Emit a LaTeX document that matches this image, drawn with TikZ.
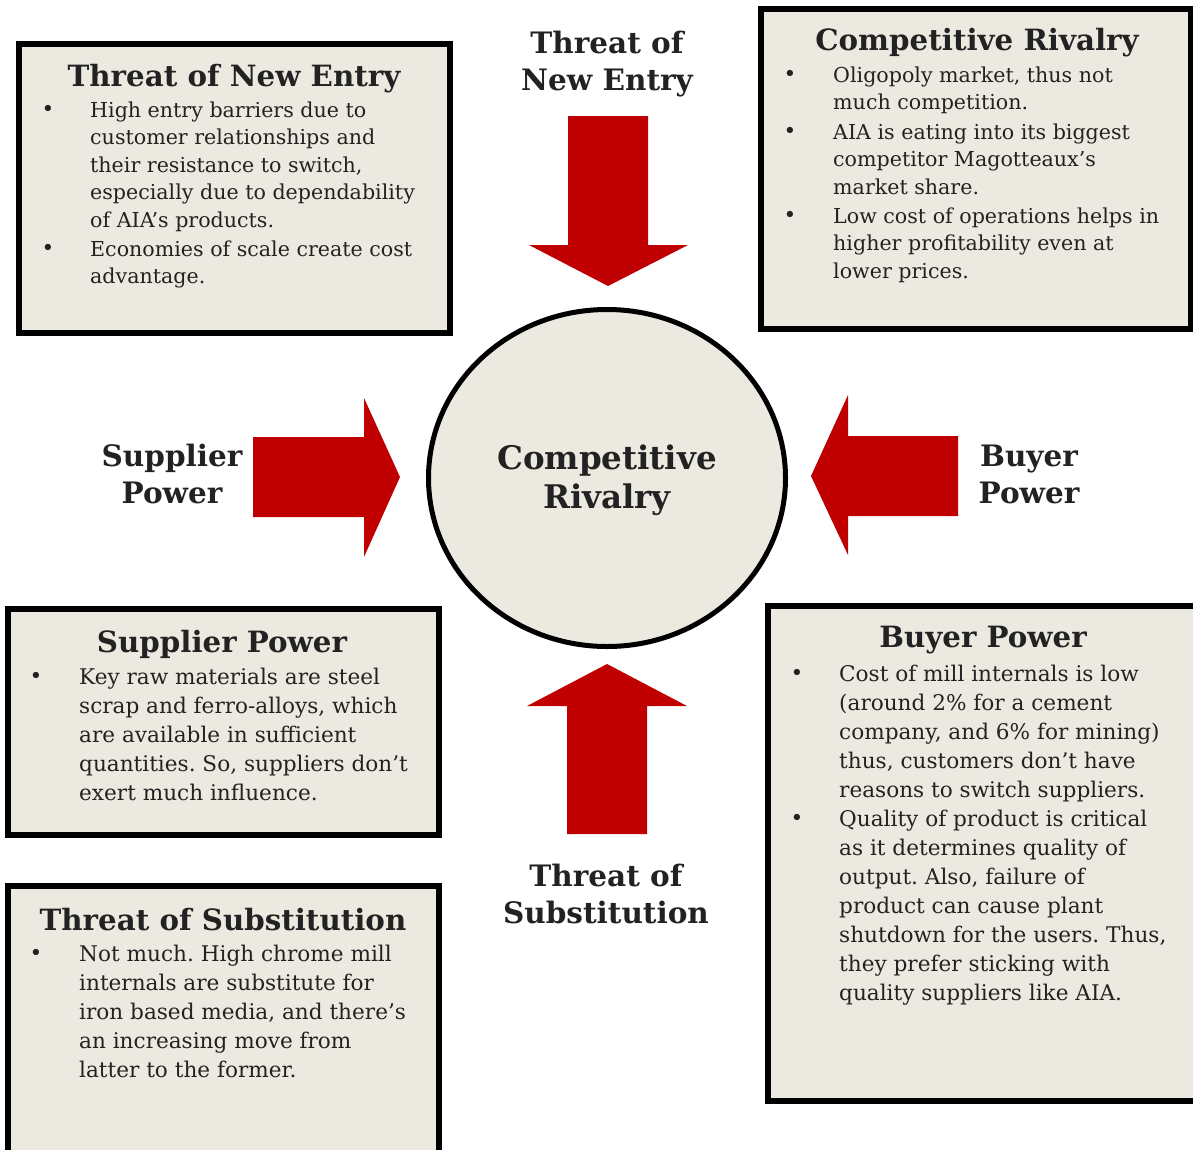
\documentclass[tikz,border=0pt]{standalone}
\usepackage{fontspec}
\setmainfont{DejaVu Serif}
\usetikzlibrary{shapes.geometric}
\definecolor{boxfill}{HTML}{ECEAE0}
\definecolor{arrowred}{HTML}{C00000}
\definecolor{ink}{HTML}{222222}
\newcommand{\bodyA}{\fontsize{20.6}{27.5}\selectfont}
\newcommand{\bodyB}{\fontsize{21.6}{29}\selectfont}
\begin{document}
\frenchspacing
\begin{tikzpicture}[x=1pt,y=-1pt,
  panel/.style={draw=black,line width=6pt,fill=boxfill},
  ptitle/.style={font=\fontsize{29.3}{34}\selectfont\bfseries,text=ink,inner sep=0pt},
  plabel/.style={font=\fontsize{29.5}{37}\selectfont\bfseries,text=ink,align=center,inner sep=0pt},
  itemA/.style={font=\bodyA,text=ink,align=left,anchor=north west,inner sep=0pt},
  itemB/.style={font=\bodyB,text=ink,align=left,anchor=north west,inner sep=0pt},
  bul/.style={font=\bodyB,text=ink,inner sep=0pt},
  blockarrow/.style={fill=arrowred,draw=none}]
\useasboundingbox (0,0) rectangle (1193,1149);
\fill[white] (0,0) rectangle (1193,1149);
% panels
\draw[panel] (19,44) rectangle (450,333);
\draw[panel] (761,9) rectangle (1190.5,329);
\draw[panel] (8,609) rectangle (439,835);
\draw[panel] (8,886) rectangle (439,1165);
\draw[panel] (768,606) rectangle (1205,1101);
% centre ellipse
\node[ellipse,draw=black,line width=5pt,fill=boxfill,minimum width=357pt,minimum height=337pt,inner sep=0pt] (core) at (607,478) {};
\node[font=\fontsize{32.5}{39}\selectfont\bfseries,text=ink,align=center,inner sep=0pt] (coretext) at (607,480) {Competitive\\Rivalry};
% block arrows
\fill[blockarrow] (568,116) -- (648,116) -- (648,245) -- (688,245) -- (608,286) -- (529,245) -- (568,245) -- cycle;
\fill[blockarrow] (567,834) -- (647,834) -- (647,706) -- (687,706) -- (607,664) -- (527,706) -- (567,706) -- cycle;
\fill[blockarrow] (253,437) -- (364,437) -- (364,398) -- (400,477) -- (364,557) -- (364,517) -- (253,517) -- cycle;
\fill[blockarrow] (958,436) -- (848,436) -- (848,395) -- (811,476) -- (848,555) -- (848,516) -- (958,516) -- cycle;
% arrow labels
\node[plabel] (lnew) at (607,64) {Threat of\\New Entry};
\node[plabel] (lsup) at (172,474) {Supplier\\Power};
\node[plabel] (lbuy) at (1029,474) {Buyer\\Power};
\node[plabel] (lsub) at (606,894) {Threat of\\Substitution};
% panel 1
\node[ptitle] (t1) at (234,79) {Threat of New Entry};
\node[bul] (b11) at (48,111) {•};
\node[itemA] (i11) at (90,98) {\strut High entry barriers due to\\customer relationships and\\their resistance to switch,\\especially due to dependability\\of AIA’s products.};
\node[bul] (b12) at (48,250) {•};
\node[itemA] (i12) at (90,237) {\strut Economies of scale create cost\\advantage.};
% panel 2
\node[ptitle] (t2) at (977,43) {Competitive Rivalry};
\node[bul] (b21) at (790,76) {•};
\node[itemA] (i21) at (833,63) {\strut Oligopoly market, thus not\\much competition.};
\node[bul] (b22) at (790,133) {•};
\node[itemA] (i22) at (833,120) {\strut AIA is eating into its biggest\\competitor Magotteaux’s\\market share.};
\node[bul] (b23) at (790,217) {•};
\node[itemA] (i23) at (833,204) {\strut Low cost of operations helps in\\higher profitability even at\\lower prices.};
% panel 3
\node[ptitle] (t3) at (222,644) {Supplier Power};
\node[bul] (b31) at (36,678) {•};
\node[itemB] (i31) at (79,664) {\strut Key raw materials are steel\\scrap and ferro-alloys, which\\are available in sufficient\\quantities. So, suppliers don’t\\exert much influence.};
% panel 4
\node[ptitle] (t4) at (223,920) {Threat of Substitution};
\node[bul] (b41) at (36,955) {•};
\node[itemB] (i41) at (79,941) {\strut Not much. High chrome mill\\internals are substitute for\\iron based media, and there’s\\an increasing move from\\latter to the former.};
% panel 5
\node[ptitle] (t5) at (983,640) {Buyer Power};
\node[bul] (b51) at (797,675) {•};
\node[itemB] (i51) at (839,661) {\strut Cost of mill internals is low\\(around 2\% for a cement\\company, and 6\% for mining)\\thus, customers don’t have\\reasons to switch suppliers.};
\node[bul] (b52) at (797,820) {•};
\node[itemB] (i52) at (839,806) {\strut Quality of product is critical\\as it determines quality of\\output. Also, failure of\\product can cause plant\\shutdown for the users. Thus,\\they prefer sticking with\\quality suppliers like AIA.};
\end{tikzpicture}
\end{document}
